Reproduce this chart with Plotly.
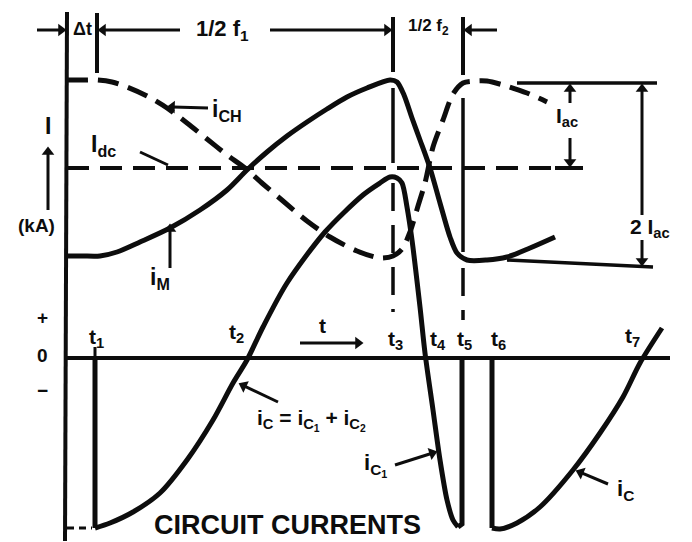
import math
import plotly.graph_objects as go

# Waveforms: time t and current i in drawing units (t = 0 at the current axis, i = 0 on the zero line)
# Magnetizing current i_M (solid)
im_t = [0, 15, 33, 50, 73, 103, 133, 160, 180, 200, 220, 240, 260, 280, 300, 323, 330, 337, 345, 353, 363, 373, 383, 390, 400, 420, 440, 463, 488]
im_i = [102, 102, 102, 106, 116, 130, 148, 168, 188, 206, 222, 236, 249, 261, 270, 278, 276, 263, 240, 218, 190, 155, 121, 105, 98, 98, 101, 110, 121]

# Chopper current i_CH (dashed)
ich_t = [0, 15, 30, 45, 60, 80, 100, 120, 140, 160, 178, 196, 216, 240, 263, 290, 313, 326, 335, 343, 351, 358, 366, 376, 386, 396, 408, 420, 436, 460, 480]
ich_i = [278, 278, 278, 276, 271, 262, 250, 235, 219, 203, 190, 174, 157, 137, 121, 107, 100, 102, 109, 126, 152, 175, 211, 238, 264, 275, 277, 277, 273, 265, 256]

# DC level I_dc
idc_t = [0, 516]
idc_i = [190, 190]

# Capacitor current i_C = i_C1 + i_C2
ic_drop1_t = [28, 28]
ic_drop1_i = [0, -170]
ic_arc1_t = [28, 43, 66, 93, 120, 146, 166, 180, 196, 220, 258, 296, 313, 323, 330, 335, 340, 345, 353, 358, 366, 373, 380, 386, 391]
ic_arc1_i = [-170, -165, -154, -135, -102, -62, -25, -2, 31, 75, 126, 163, 175, 181, 180, 175, 151, 118, 51, 5, -52, -102, -142, -162, -169]
ic_rise_t = [391, 395, 395]
ic_rise_i = [-169, -166, 0]
ic_drop2_t = [425, 425]
ic_drop2_i = [0, -170]
ic_arc2_t = [425, 433, 450, 473, 506, 533, 556, 573, 595]
ic_arc2_i = [-170, -171, -165, -149, -112, -75, -39, -5, 30]

# Time marks
t_names = ["t<sub>1</sub>", "t<sub>2</sub>", "t<sub>3</sub>", "t<sub>4</sub>", "t<sub>5</sub>", "t<sub>6</sub>", "t<sub>7</sub>"]
t_pos = [29, 169, 328, 371, 397, 431, 565]
t_lab_i = [20, 25, 18, 18, 18, 18, 21]

INK = "#0d0d0d"
FONT = "Liberation Sans"
W = 5

fig = go.Figure()


def curve(t, i, shape="spline", dash="solid", width=W, smoothing=0.8):
    fig.add_trace(go.Scatter(x=t, y=i, mode="lines", hoverinfo="skip",
                             line=dict(color=INK, width=width, shape=shape, dash=dash, smoothing=smoothing)))


curve(im_t, im_i)
curve(ich_t, ich_i, dash="21px,10px")
curve(idc_t, idc_i, shape="linear", dash="22px,11px", width=4)
curve(ic_drop1_t, ic_drop1_i, shape="linear")
curve(ic_arc1_t, ic_arc1_i)
curve(ic_rise_t, ic_rise_i, shape="linear")
curve(ic_drop2_t, ic_drop2_i, shape="linear")
curve(ic_arc2_t, ic_arc2_i)

shapes = []


def seg(x0, y0, x1, y1, width=4, dash="solid"):
    shapes.append(dict(type="line", x0=x0, y0=y0, x1=x1, y1=y1, layer="below",
                       line=dict(color=INK, width=width, dash=dash)))


# arrow shafts are shapes; heads are rotated triangle markers
head_x, head_y, head_angle = [], [], []


def arrow(x0, y0, x1, y1, width=3):
    dx, dy = x1 - x0, y1 - y0
    n = math.hypot(dx, dy)
    ux, uy = dx / n, dy / n
    seg(x0, y0, x1 - ux * 5, y1 - uy * 5, width=width)
    head_x.append(x1 - ux * 4)
    head_y.append(y1 - uy * 4)
    head_angle.append(math.degrees(math.atan2(dx, dy)))


# axes
seg(0, 346, -2, -183, width=4)
seg(0, 0, 603, 0, width=4)
# time-interval dimension marks
seg(30, 345, 30, 285, width=4)
seg(326, 341, 326, 286, width=4)
seg(396, 341, 396, 283, width=4)
# t3 and t5 guide lines
seg(326, 270, 326, 195, width=3.5)
seg(326, 175, 326, 46, width=3.5, dash="28px,14px")
seg(396, 260, 396, 106, width=3.5)
seg(396, 90, 396, 38, width=3.5, dash="28px,14px")
# amplitude reference lines
seg(450, 275, 590, 275, width=3.5)
seg(440, 98, 586, 91, width=3.5)
seg(488, 190, 515, 190, width=4)
# bottom-left extension of the negative peak
seg(0, -170, 25, -170, width=3, dash="7px,5px")
# tick above t1
seg(28, 0, 28, 11, width=3)

ann = []


def label(x, y, text, size=20, xanchor="center"):
    ann.append(dict(x=x, y=y, text="<b>" + text + "</b>", showarrow=False, xanchor=xanchor, yanchor="middle",
                    font=dict(family=FONT, size=size, color=INK)))


# top dimension row
arrow(-30, 328, -2, 328)
label(15, 329, "Δt", size=18)
arrow(113, 328, 32, 328)
label(155, 328, "1/2 f<sub>1</sub>", size=22)
arrow(203, 328, 324, 328)
label(361, 331, "1/2 f<sub>2</sub>", size=17)
arrow(430, 328, 398, 328)

# current axis label
label(-19, 232, "I", size=23)
arrow(-19, 148, -19, 210)
label(-31, 133, "(kA)", size=19)
label(-25, 41, "+", size=19)
label(-25, 3, "0", size=19)
label(-25, -32, "−", size=19)

# curve labels
label(143, 248, "i<sub>CH</sub>", size=23, xanchor="left")
arrow(141, 250, 101, 251)
label(22, 213, "I<sub>dc</sub>", size=23, xanchor="left")
seg(73, 206, 101, 193, width=3)
label(81, 80, "i<sub>M</sub>", size=23, xanchor="left")
arrow(103, 90, 103, 133)
label(487, 241, "I<sub>ac</sub>", size=21, xanchor="left")
arrow(503, 255, 503, 273)
arrow(503, 220, 503, 192)
label(583, 130, "2 I<sub>ac</sub>", size=21)
arrow(575, 143, 575, 273)
arrow(575, 118, 575, 93)

# time labels
for name, tp, ly in zip(t_names, t_pos, t_lab_i):
    label(tp, ly, name, size=21)
label(255, 33, "t", size=21)
arrow(233, 15, 295, 15)

# capacitor current labels
label(188, -62, "i<sub>C</sub> = i<sub>C<sub>1</sub></sub> + i<sub>C<sub>2</sub></sub>", size=21, xanchor="left")
arrow(211, -44, 173, -26)
label(295, -107, "i<sub>C<sub>1</sub></sub>", size=22, xanchor="left")
arrow(328, -107, 369, -94)
label(548, -132, "i<sub>C</sub>", size=22, xanchor="left")
arrow(541, -126, 510, -113)

label(220, -167, "CIRCUIT CURRENTS", size=27)

fig.add_trace(go.Scatter(x=head_x, y=head_y, mode="markers", hoverinfo="skip",
                         marker=dict(symbol="triangle-up", size=11, color=INK, angle=head_angle,
                                     line=dict(width=0))))

fig.update_layout(
    width=692, height=542,
    margin=dict(l=0, r=0, t=0, b=0),
    paper_bgcolor="white", plot_bgcolor="white",
    showlegend=False,
    xaxis=dict(range=[-67, 625], visible=False, fixedrange=True),
    yaxis=dict(range=[-184, 358], visible=False, fixedrange=True),
    shapes=shapes,
    annotations=ann,
)

fig.write_html("out.html")
